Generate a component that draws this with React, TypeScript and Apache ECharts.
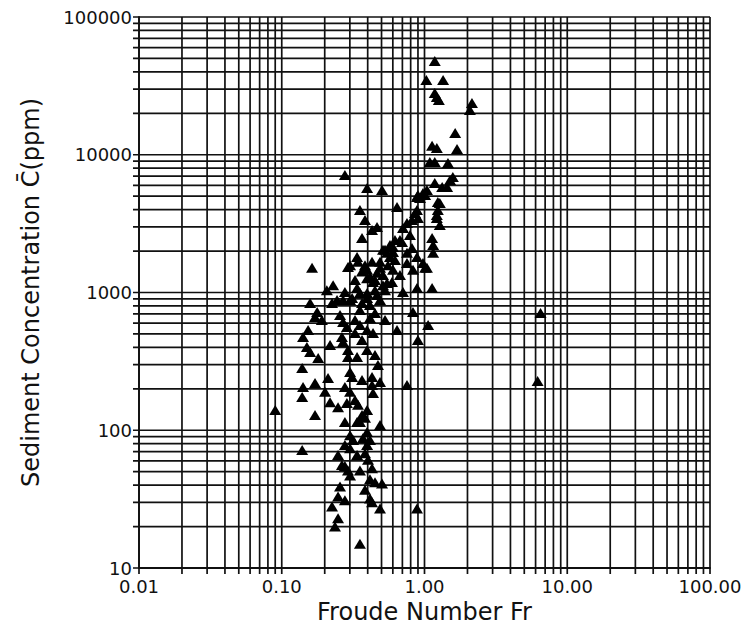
import React, { useEffect, useRef } from "react";
import * as echarts from "echarts";

// Froude number (x) and mean sediment concentration in ppm (y), one pair per observation
const froudeNumber: number[] = [
  1.18, 1.03, 1.35, 1.22, 1.18, 1.26, 2.15, 2.08, 1.64, 1.13,
  1.22, 1.69, 1.09, 1.18, 1.46, 1.58, 1.51, 0.277, 0.396, 0.504,
  1.18, 1.33, 1.44, 0.976, 0.899, 1.04, 0.886, 1.24, 1.28, 0.642,
  0.353, 0.886, 1.24, 0.858, 1.22, 0.899, 1.22, 0.817, 0.383, 0.465,
  0.754, 0.707, 0.365, 0.696, 0.673, 0.602, 0.573, 1.13, 1.15, 0.529,
  0.512, 0.754, 0.337, 0.573, 0.488, 0.621, 0.754, 1.01, 1.15, 0.546,
  0.602, 0.886, 0.976, 1.04, 1.13, 0.886, 0.163, 0.291, 0.301, 0.342,
  0.396, 0.415, 0.436, 0.465, 0.45, 0.512, 0.592, 0.546, 0.602, 0.512,
  0.229, 0.277, 0.337, 0.396, 0.465, 0.707, 0.158, 0.225, 0.269, 0.311,
  0.353, 0.365, 0.396, 0.83, 1.06, 0.642, 0.45, 0.415, 0.177, 0.171,
  0.256, 0.269, 0.286, 0.353, 0.396, 0.436, 0.153, 0.141, 0.264, 0.269,
  0.326, 0.899, 0.15, 0.158, 0.18, 0.291, 0.337, 0.291, 0.396, 0.45,
  0.139, 0.301, 0.311, 0.472, 0.429, 0.365, 0.141, 0.171, 0.211, 0.139,
  0.201, 0.277, 0.301, 0.429, 0.488, 0.436, 0.754, 0.09, 0.171, 0.218,
  0.248, 0.286, 0.342, 0.396, 0.383, 0.353, 0.277, 0.337, 0.488, 0.301,
  0.316, 0.396, 0.371, 0.396, 0.139, 0.301, 0.248, 0.383, 0.402, 0.264,
  0.277, 0.291, 0.301, 0.429, 0.415, 0.45, 0.504, 0.256, 0.248, 0.415,
  0.429, 0.488, 0.886, 0.225, 0.248, 0.236, 0.353, 6.5, 6.2, 0.396,
  1.01, 0.93, 1.28, 0.383, 0.429, 0.365, 0.488, 0.529, 0.45, 0.326,
  0.301, 0.353, 0.488, 0.415, 0.326, 0.529, 0.365, 0.244, 0.207, 0.191,
  0.218, 0.326, 0.365, 0.415, 0.337, 0.277, 0.353, 0.383, 0.277, 0.621,
  0.791, 0.817, 0.555, 0.673, 0.831, 0.429,
];

const concentrationPpm: number[] = [
  48000, 34900, 34900, 26300, 28100, 25000, 23800, 21100, 14400, 11600,
  11200, 11000, 8870, 8870, 8730, 6890, 6560, 7130, 5740, 5550,
  6240, 5830, 5830, 5280, 5100, 5550, 4940, 4540, 4470, 4180,
  3970, 3970, 3970, 3780, 3650, 3480, 3480, 3360, 3360, 2990,
  3200, 2940, 2490, 2330, 2410, 2140, 2210, 2490, 2210, 2040,
  2040, 1940, 1810, 1810, 1670, 1720, 1640, 1510, 1940, 1940,
  1970, 1810, 1640, 1510, 1080, 1080, 1510, 1530, 1580, 1670,
  1460, 1300, 1190, 1390, 1230, 1340, 1190, 1170, 1460, 1130,
  1130, 1010, 1080, 992, 959, 1010, 840, 840, 883, 912,
  992, 840, 912, 722, 581, 535, 710, 653, 722, 664,
  687, 611, 562, 581, 535, 508, 535, 475, 475, 437,
  508, 452, 402, 370, 334, 383, 340, 340, 383, 352,
  283, 265, 244, 298, 244, 232, 206, 220, 240, 174,
  190, 206, 190, 213, 224, 186, 213, 140, 129, 160,
  147, 158, 153, 140, 123, 115, 115, 115, 109, 92,
  85, 97, 88, 78, 72, 74, 66, 68, 61, 56,
  55, 51, 47, 53, 44, 42, 41, 39, 33, 32,
  30, 27, 27, 28, 23, 20, 15, 710, 228, 1270,
  5100, 4850, 3090, 1580, 1670, 1420, 1510, 1040, 1040, 1230,
  883, 747, 883, 811, 631, 631, 452, 883, 1040, 631,
  416, 166, 129, 85, 66, 78, 51, 37, 31, 2410,
  2610, 2100, 1580, 1340, 1460, 2840,
];

// Ruled lines of the log-log paper: every 1..9 step of each decade
const xGridLines: number[] = [
  0.01, 0.02, 0.03, 0.04, 0.05, 0.06, 0.07, 0.08, 0.09,
  0.1, 0.2, 0.3, 0.4, 0.5, 0.6, 0.7, 0.8, 0.9,
  1, 2, 3, 4, 5, 6, 7, 8, 9,
  10, 20, 30, 40, 50, 60, 70, 80, 90,
  100,
];

const yGridLines: number[] = [
  10, 20, 30, 40, 50, 60, 70, 80, 90,
  100, 200, 300, 400, 500, 600, 700, 800, 900,
  1000, 2000, 3000, 4000, 5000, 6000, 7000, 8000, 9000,
  10000, 20000, 30000, 40000, 50000, 60000, 70000, 80000, 90000,
  100000,
];

const X_MIN = 0.01;
const X_MAX = 100;
const Y_MIN = 10;
const Y_MAX = 100000;

const FONT = "'DejaVu Sans', 'Liberation Sans', Arial, sans-serif";
const INK = "#111111";
const TICK_OUT = 6;

export default function App() {
  const ref = useRef<HTMLDivElement>(null);

  useEffect(() => {
    if (!ref.current) return;
    const chart = echarts.init(ref.current, undefined, { renderer: "svg" });

    const points = froudeNumber.map((fr, i) => [fr, concentrationPpm[i]]);

    chart.setOption({
      animation: false,
      backgroundColor: "#ffffff",
      grid: { left: 139, right: 36, top: 17, bottom: 67 },
      xAxis: {
        type: "log",
        logBase: 10,
        min: X_MIN,
        max: X_MAX,
        name: "Froude Number Fr",
        nameLocation: "middle",
        nameGap: 32,
        nameTextStyle: { fontFamily: FONT, fontSize: 24, color: INK },
        axisLine: { show: true, lineStyle: { color: INK, width: 1.8 } },
        axisTick: { show: false },
        splitLine: { show: false },
        axisLabel: {
          margin: 10,
          fontFamily: FONT,
          fontSize: 18,
          lineHeight: 16,
          color: INK,
          formatter: (v: number) => v.toFixed(2),
        },
      },
      yAxis: {
        type: "log",
        logBase: 10,
        min: Y_MIN,
        max: Y_MAX,
        name: "Sediment Concentration C\u0304(ppm)",
        nameLocation: "middle",
        nameGap: 96,
        nameRotate: 90,
        nameTextStyle: { fontFamily: FONT, fontSize: 24, color: INK },
        axisLine: { show: true, lineStyle: { color: INK, width: 1.8 } },
        axisTick: { show: false },
        splitLine: { show: false },
        axisLabel: {
          margin: 7,
          fontFamily: FONT,
          fontSize: 18,
          lineHeight: 16,
          color: INK,
          formatter: (v: number) => String(Math.round(v)),
        },
      },
      series: [
        {
          name: "vertical rules",
          type: "custom",
          silent: true,
          clip: false,
          data: xGridLines.map((v) => [v, Y_MIN]),
          renderItem: (_params: any, api: any) => {
            const v = api.value(0);
            const p0 = api.coord([v, Y_MIN]);
            const p1 = api.coord([v, Y_MAX]);
            return {
              type: "line",
              shape: { x1: p0[0], y1: p0[1] + TICK_OUT, x2: p1[0], y2: p1[1] },
              style: { stroke: INK, lineWidth: 1.7 },
            };
          },
          z: 1,
        },
        {
          name: "horizontal rules",
          type: "custom",
          silent: true,
          clip: false,
          data: yGridLines.map((v) => [X_MIN, v]),
          renderItem: (_params: any, api: any) => {
            const v = api.value(1);
            const p0 = api.coord([X_MIN, v]);
            const p1 = api.coord([X_MAX, v]);
            return {
              type: "line",
              shape: { x1: p0[0] - TICK_OUT, y1: p0[1], x2: p1[0], y2: p1[1] },
              style: { stroke: INK, lineWidth: 1.7 },
            };
          },
          z: 1,
        },
        {
          name: "observations",
          type: "scatter",
          symbol: "triangle",
          symbolSize: [12, 10],
          itemStyle: { color: "#000000", opacity: 1 },
          data: points,
          z: 3,
        },
      ],
    });

    return () => chart.dispose();
  }, []);

  return (
    <div
      ref={ref}
      style={{ position: "fixed", left: 0, top: 0, width: 746, height: 635, background: "#fff" }}
    />
  );
}
